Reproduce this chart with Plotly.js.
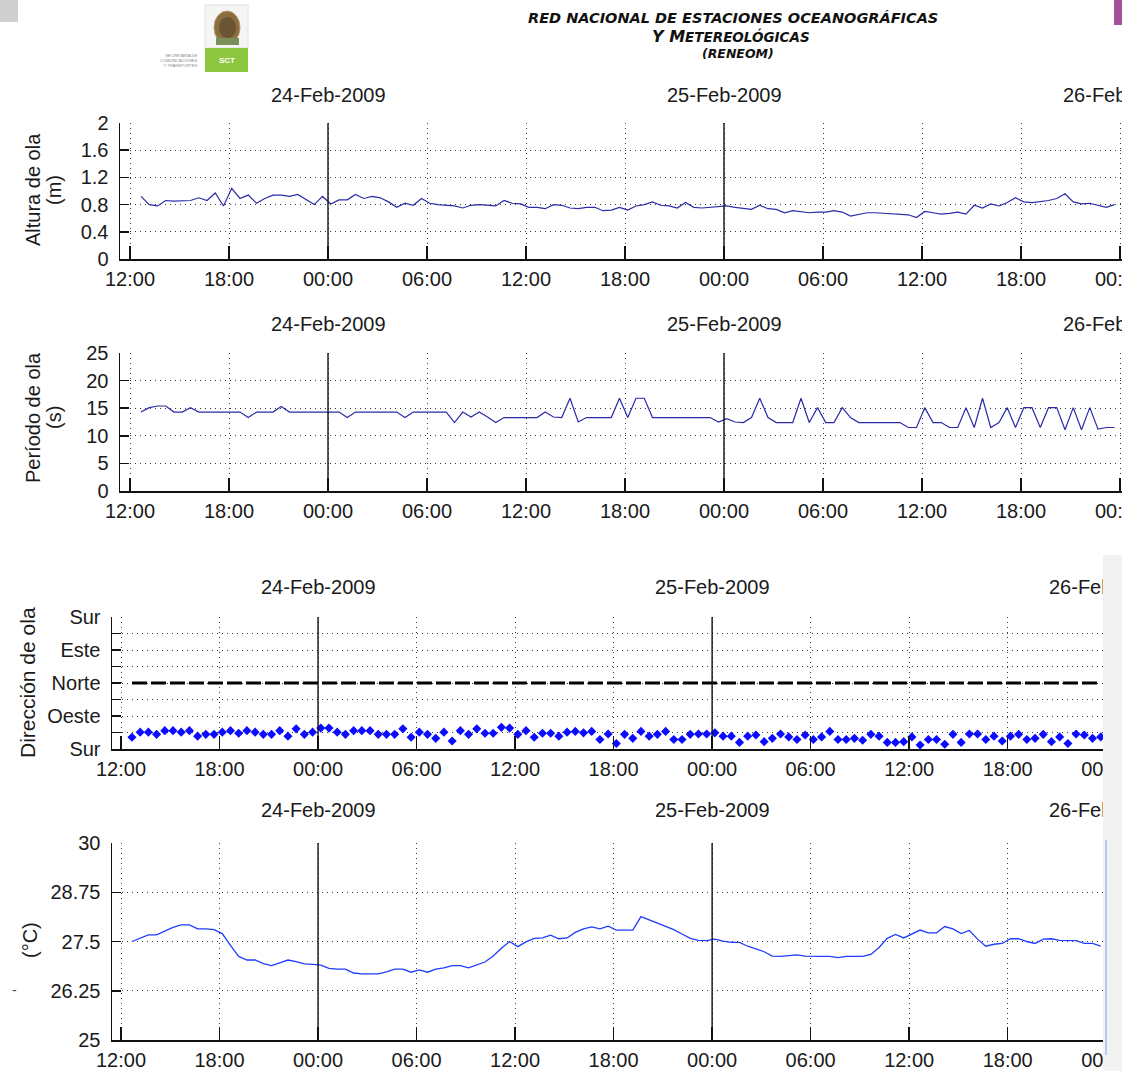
<!DOCTYPE html>
<html>
<head>
<meta charset="utf-8">
<script src="https://cdn.plot.ly/plotly-3.0.1.min.js"></script>
<style>
  html, body { margin: 0; padding: 0; background: #fff; width: 1122px; height: 1071px; overflow: hidden; }
  #oleaje { position: absolute; left: 0; top: 0; width: 1122px; height: 555px; overflow: hidden; }
  #direccion { position: absolute; left: 0; top: 555px; width: 1103px; height: 516px; overflow: hidden; }
  #marco { position: absolute; left: 1103px; top: 555px; width: 19px; height: 516px; background: #f2f2f2; }
  #marco .barra { position: absolute; left: 2px; top: 285px; width: 2px; height: 215px; background: #b9c9f2; }
</style>
</head>
<body>
<div id="oleaje"></div>
<div id="direccion"></div>
<div id="marco"><div class="barra"></div></div>
<script>
// ---- Serie de tiempo (muestras cada 30 min) ----
const tiempo = [
  '2009-02-23 12:40','2009-02-23 13:10','2009-02-23 13:40','2009-02-23 14:10','2009-02-23 14:40','2009-02-23 15:10',
  '2009-02-23 15:40','2009-02-23 16:10','2009-02-23 16:40','2009-02-23 17:10','2009-02-23 17:40','2009-02-23 18:10',
  '2009-02-23 18:40','2009-02-23 19:10','2009-02-23 19:40','2009-02-23 20:10','2009-02-23 20:40','2009-02-23 21:10',
  '2009-02-23 21:40','2009-02-23 22:10','2009-02-23 22:40','2009-02-23 23:10','2009-02-23 23:40',
  '2009-02-24 00:10','2009-02-24 00:40','2009-02-24 01:10','2009-02-24 01:40','2009-02-24 02:10','2009-02-24 02:40',
  '2009-02-24 03:10','2009-02-24 03:40','2009-02-24 04:10','2009-02-24 04:40','2009-02-24 05:10','2009-02-24 05:40',
  '2009-02-24 06:10','2009-02-24 06:40','2009-02-24 07:10','2009-02-24 07:40','2009-02-24 08:10','2009-02-24 08:40',
  '2009-02-24 09:10','2009-02-24 09:40','2009-02-24 10:10','2009-02-24 10:40','2009-02-24 11:10','2009-02-24 11:40',
  '2009-02-24 12:10','2009-02-24 12:40','2009-02-24 13:10','2009-02-24 13:40','2009-02-24 14:10','2009-02-24 14:40',
  '2009-02-24 15:10','2009-02-24 15:40','2009-02-24 16:10','2009-02-24 16:40','2009-02-24 17:10','2009-02-24 17:40',
  '2009-02-24 18:10','2009-02-24 18:40','2009-02-24 19:10','2009-02-24 19:40','2009-02-24 20:10','2009-02-24 20:40',
  '2009-02-24 21:10','2009-02-24 21:40','2009-02-24 22:10','2009-02-24 22:40','2009-02-24 23:10','2009-02-24 23:40',
  '2009-02-25 00:10','2009-02-25 00:40','2009-02-25 01:10','2009-02-25 01:40','2009-02-25 02:10','2009-02-25 02:40',
  '2009-02-25 03:10','2009-02-25 03:40','2009-02-25 04:10','2009-02-25 04:40','2009-02-25 05:10','2009-02-25 05:40',
  '2009-02-25 06:10','2009-02-25 06:40','2009-02-25 07:10','2009-02-25 07:40','2009-02-25 08:10','2009-02-25 08:40',
  '2009-02-25 09:10','2009-02-25 09:40','2009-02-25 10:10','2009-02-25 10:40','2009-02-25 11:10','2009-02-25 11:40',
  '2009-02-25 12:10','2009-02-25 12:40','2009-02-25 13:10','2009-02-25 13:40','2009-02-25 14:10','2009-02-25 14:40',
  '2009-02-25 15:10','2009-02-25 15:40','2009-02-25 16:10','2009-02-25 16:40','2009-02-25 17:10','2009-02-25 17:40',
  '2009-02-25 18:10','2009-02-25 18:40','2009-02-25 19:10','2009-02-25 19:40','2009-02-25 20:10','2009-02-25 20:40',
  '2009-02-25 21:10','2009-02-25 21:40','2009-02-25 22:10','2009-02-25 22:40','2009-02-25 23:10','2009-02-25 23:40'
];

// Altura de ola (m)
const altura = [
  0.92,0.80,0.78,0.86,0.85,0.85,0.86,0.90,0.86,0.97,
  0.78,1.04,0.89,0.94,0.82,0.89,0.94,0.94,0.92,0.95,
  0.87,0.80,0.92,0.81,0.87,0.87,0.95,0.89,0.92,0.90,
  0.84,0.76,0.82,0.79,0.89,0.82,0.80,0.79,0.78,0.75,
  0.79,0.80,0.79,0.78,0.86,0.82,0.81,0.76,0.76,0.74,
  0.80,0.79,0.75,0.74,0.76,0.76,0.71,0.72,0.76,0.72,
  0.78,0.80,0.84,0.79,0.78,0.75,0.83,0.76,0.75,0.76,
  0.78,0.78,0.76,0.74,0.73,0.79,0.74,0.73,0.68,0.71,
  0.70,0.68,0.69,0.69,0.71,0.69,0.63,0.66,0.68,0.68,
  0.67,0.66,0.66,0.65,0.61,0.70,0.68,0.66,0.67,0.69,
  0.66,0.79,0.75,0.81,0.78,0.83,0.90,0.84,0.83,0.84,
  0.86,0.89,0.96,0.84,0.81,0.82,0.79,0.76,0.80
];

// Periodo de ola (s)
const periodo = [
  14.3,15.1,15.4,15.4,14.3,14.3,15.1,14.3,14.3,14.3,
  14.3,14.3,14.3,13.3,14.3,14.3,14.3,15.3,14.3,14.3,
  14.3,14.3,14.3,14.3,14.3,13.3,14.3,14.3,14.3,14.3,
  14.3,14.3,13.3,14.3,14.3,14.3,14.3,14.3,12.4,14.3,
  13.4,14.3,13.4,12.4,13.3,13.3,13.3,13.3,13.3,14.3,
  13.4,13.3,16.8,12.5,13.3,13.3,13.3,13.3,16.8,13.3,
  16.8,16.8,13.3,13.3,13.3,13.3,13.3,13.3,13.3,13.3,
  12.5,13.1,12.5,12.4,13.3,16.8,13.3,12.4,12.4,12.4,
  16.8,12.4,15.1,12.4,12.4,15.1,13.3,12.4,12.4,12.4,
  12.4,12.4,12.4,11.5,11.5,15.1,12.4,12.4,11.5,11.5,
  15.1,11.5,16.8,11.5,12.4,15.1,11.5,15.1,15.1,11.5,
  15.1,15.1,11.1,15.1,11.1,15.1,11.2,11.5,11.5
];

// Direccion de ola (grados, 0 = Sur, 180 = Norte)
const direccion = [
  32,46,46,40,50,50,46,50,35,40,
  40,46,50,43,50,46,40,40,50,35,
  55,40,46,57,57,46,40,50,50,50,
  40,40,40,55,32,46,40,29,46,22,
  50,40,55,43,43,59,57,40,50,32,
  43,43,35,46,48,44,48,26,41,15,
  40,29,48,35,40,48,26,26,40,41,
  41,44,35,35,18,35,38,20,29,41,
  33,26,38,26,33,48,26,26,29,24,
  40,35,18,18,20,33,11,26,26,13,
  40,18,41,41,26,35,22,35,40,26,
  29,40,20,33,15,41,38,29,33
];

// Temperatura del agua (°C)
const temperatura = [
  27.50,27.59,27.67,27.67,27.77,27.86,27.92,27.92,27.82,27.82,
  27.80,27.70,27.40,27.12,27.03,27.03,26.94,26.89,26.96,27.03,
  26.99,26.93,26.92,26.90,26.82,26.80,26.80,26.70,26.68,26.68,
  26.68,26.73,26.80,26.80,26.72,26.78,26.72,26.80,26.83,26.89,
  26.89,26.83,26.90,26.98,27.13,27.33,27.50,27.37,27.49,27.58,
  27.59,27.66,27.57,27.59,27.73,27.82,27.87,27.82,27.89,27.79,
  27.79,27.79,28.13,28.05,27.97,27.89,27.80,27.69,27.58,27.53,
  27.52,27.56,27.51,27.48,27.48,27.38,27.30,27.24,27.13,27.12,
  27.14,27.16,27.13,27.12,27.12,27.12,27.09,27.12,27.12,27.12,
  27.17,27.35,27.58,27.68,27.59,27.68,27.79,27.72,27.72,27.88,
  27.82,27.70,27.78,27.56,27.38,27.43,27.45,27.57,27.57,27.50,
  27.45,27.56,27.57,27.53,27.52,27.52,27.45,27.45,27.38
];

// Referencia: direccion Norte
const NORTE = 180;

// Dias y ejes
const medianoches = ['2009-02-24 00:00', '2009-02-25 00:00', '2009-02-26 00:00'];
const etiquetasDia = ['24-Feb-2009', '25-Feb-2009', '26-Feb-2009'];
const ticksAltura = [0, 0.4, 0.8, 1.2, 1.6, 2];
const ticksPeriodo = [0, 5, 10, 15, 20, 25];
const ticksDireccion = [0, 45, 90, 135, 180, 225, 270, 315, 360];
const textosDireccion = ['Sur', '', 'Oeste', '', 'Norte', '', 'Este', '', 'Sur'];
const ticksTemperatura = [25, 26.25, 27.5, 28.75, 30];
const textosTemperatura = ['25', '26.25', '27.5', '28.75', '30'];

// ---- Geometria ----
const ANCHO = 1300;
const ALTO_A = 555, ALTO_B = 516, ARRIBA_B = 555;
const BASE = Date.UTC(2009, 1, 23, 12, 0, 0);
const HORA = 3600 * 1000;
const FUENTE = 'Liberation Sans, Arial, Helvetica, sans-serif';
const fTick = { family: FUENTE, size: 20, color: '#1a1a1a' };

const fx = x => x / ANCHO;
const fyA = y => 1 - y / ALTO_A;
const fyB = y => 1 - (y - ARRIBA_B) / ALTO_B;
const fecha = ms => new Date(ms).toISOString().slice(0, 19).replace('T', ' ');
const ultimo = tiempo[tiempo.length - 1];

function ejeX(pxIzq, pxBase, pxPorHora, ancla) {
  return {
    type: 'date', anchor: ancla, domain: [fx(pxIzq), 1],
    range: [fecha(BASE + (pxIzq - pxBase) / pxPorHora * HORA), fecha(BASE + (ANCHO - pxBase) / pxPorHora * HORA)],
    tick0: '2009-02-23 00:00', dtick: 6 * HORA, tickformat: '%H:%M',
    showgrid: true, gridcolor: '#3a3a3a', griddash: '1px,4px', gridwidth: 1,
    showline: true, linecolor: '#111', linewidth: 1.5,
    ticks: 'inside', ticklen: 13, tickwidth: 1.5, tickcolor: '#111',
    tickfont: fTick, ticklabelstandoff: 1, zeroline: false, fixedrange: true
  };
}
function ejeY(dominio, rango, valores, textos, ancla) {
  return {
    anchor: ancla, domain: dominio, range: rango,
    tickmode: 'array', tickvals: valores, ticktext: textos,
    showgrid: true, gridcolor: '#3a3a3a', griddash: '1px,4px', gridwidth: 1,
    showline: true, linecolor: '#111', linewidth: 1.5,
    ticks: 'inside', ticklen: 9, tickwidth: 1.5, tickcolor: '#111',
    tickfont: fTick, ticklabelstandoff: 6, zeroline: false, fixedrange: true
  };
}

// separadores de dia (solo dentro del periodo medido) y fecha sobre cada panel
function marcasDia(ejeXn, ejeYn, desplaz) {
  const lineas = medianoches.filter(m => m <= ultimo).map(m => ({
    type: 'line', xref: ejeXn, yref: ejeYn + ' domain', x0: m, x1: m, y0: 0, y1: 1,
    line: { color: '#111', width: 1.4 }, layer: 'above'
  }));
  const textos = medianoches.map((m, i) => ({
    xref: ejeXn, yref: ejeYn + ' domain', x: m, y: 1, yshift: desplaz,
    text: etiquetasDia[i], showarrow: false, xanchor: 'center', yanchor: 'middle',
    font: { family: FUENTE, size: 20, color: '#1a1a1a' }
  }));
  return { lineas, textos };
}
function tituloY(texto, x, y, tam, fy) {
  return {
    xref: 'paper', yref: 'paper', x: fx(x), y: fy(y), text: texto, textangle: -90,
    showarrow: false, xanchor: 'center', yanchor: 'middle',
    font: { family: FUENTE, size: tam, color: '#1a1a1a' }
  };
}
function rect(x0, y0, x1, y1, fy, relleno, borde) {
  return {
    type: 'rect', xref: 'paper', yref: 'paper', x0: fx(x0), x1: fx(x1), y0: fy(y1), y1: fy(y0),
    fillcolor: relleno, line: { width: borde ? 1 : 0, color: borde || relleno }, layer: 'above'
  };
}

// ---- Figura superior: altura y periodo ----
const dA1 = marcasDia('x', 'y', 28);
const dA2 = marcasDia('x2', 'y2', 29);

const trazasA = [
  { x: tiempo, y: altura, mode: 'lines', line: { color: '#2b2ba8', width: 1.2 }, xaxis: 'x', yaxis: 'y' },
  { x: tiempo, y: periodo, mode: 'lines', line: { color: '#2b2ba8', width: 1.2 }, xaxis: 'x2', yaxis: 'y2' }
];

const encabezado = [
  { x: fx(733), y: fyA(18), text: '<b><i>RED NACIONAL DE ESTACIONES OCEANOGRÁFICAS</i></b>',
    font: { family: 'DejaVu Sans', size: 14.5, color: '#111' } },
  { x: fx(731), y: fyA(36), text: '<b><i>Y M<span style="font-size:13.5px">ETEREOLÓGICAS</span></i></b>',
    font: { family: 'DejaVu Sans', size: 16, color: '#111' } },
  { x: fx(738), y: fyA(53), text: '<b><i>(RENEOM)</i></b>',
    font: { family: 'DejaVu Sans', size: 12.5, color: '#111' } },
  { x: fx(226.5), y: fyA(61), text: '<b>SCT</b>', font: { family: FUENTE, size: 8, color: '#ffffff' } },
  { x: fx(199), y: fyA(60), xanchor: 'right', align: 'right',
    text: 'SECRETARÍA DE<br>COMUNICACIONES<br>Y TRANSPORTES', font: { family: FUENTE, size: 4, color: '#888' } }
].map(a => Object.assign({ xref: 'paper', yref: 'paper', showarrow: false, xanchor: 'center', yanchor: 'middle' }, a));

const layoutA = {
  width: ANCHO, height: ALTO_A, margin: { l: 0, r: 0, t: 0, b: 0 },
  paper_bgcolor: '#ffffff', plot_bgcolor: '#ffffff', showlegend: false,
  xaxis: ejeX(120, 130, 16.5, 'y'),
  yaxis: ejeY([fyA(259), fyA(123)], [0, 2], ticksAltura, ticksAltura.map(String), 'x'),
  xaxis2: ejeX(120, 130, 16.5, 'y2'),
  yaxis2: ejeY([fyA(491), fyA(353)], [0, 25], ticksPeriodo, ticksPeriodo.map(String), 'x2'),
  shapes: [
    rect(0, 0, 18, 22, fyA, '#cfcfcf'),
    rect(1114, 0, 1122, 25, fyA, '#a3519b'),
    rect(205, 5, 248, 48, fyA, '#f5f5f3', '#dedede'),
    { type: 'circle', xref: 'paper', yref: 'paper', x0: fx(214), x1: fx(240), y0: fyA(44), y1: fyA(11),
      fillcolor: '#8c6d3f', line: { width: 1, color: '#b39a6e' }, layer: 'above' },
    { type: 'circle', xref: 'paper', yref: 'paper', x0: fx(219), x1: fx(236), y0: fyA(38), y1: fyA(17),
      fillcolor: '#6b5431', line: { width: 0 }, layer: 'above' },
    rect(216, 38, 239, 45, fyA, '#7b8f5a'),
    rect(205, 48, 248, 72, fyA, '#8dc63f')
  ].concat(dA1.lineas, dA2.lineas),
  annotations: encabezado.concat(dA1.textos, dA2.textos, [
    tituloY('Altura de ola', 33, 190, 20, fyA),
    tituloY('(m)', 54, 190, 20, fyA),
    tituloY('Período de ola', 33, 418, 20, fyA),
    tituloY('(s)', 54, 418, 20, fyA)
  ])
};

// ---- Figura inferior: direccion y temperatura ----
const dB1 = marcasDia('x', 'y', 30);
const dB2 = marcasDia('x2', 'y2', 33);

const trazasB = [
  { x: [tiempo[0], ultimo], y: [NORTE, NORTE], mode: 'lines',
    line: { color: '#000000', width: 2.8, dash: '15px,4px' }, xaxis: 'x', yaxis: 'y' },
  { x: tiempo, y: direccion, mode: 'markers',
    marker: { symbol: 'diamond', size: 7, color: '#0b0bff', line: { width: 0 } }, xaxis: 'x', yaxis: 'y' },
  { x: tiempo, y: temperatura, mode: 'lines', line: { color: '#1f3dff', width: 1.3 }, xaxis: 'x2', yaxis: 'y2' }
];

const layoutB = {
  width: ANCHO, height: ALTO_B, margin: { l: 0, r: 0, t: 0, b: 0 },
  paper_bgcolor: '#ffffff', plot_bgcolor: '#ffffff', showlegend: false,
  xaxis: ejeX(112, 121, 16.42, 'y'),
  yaxis: ejeY([fyB(749), fyB(617)], [0, 360], ticksDireccion, textosDireccion, 'x'),
  xaxis2: ejeX(112, 121, 16.42, 'y2'),
  yaxis2: ejeY([fyB(1040), fyB(843)], [25, 30], ticksTemperatura, textosTemperatura, 'x2'),
  shapes: dB1.lineas.concat(dB2.lineas),
  annotations: dB1.textos.concat(dB2.textos, [
    tituloY('Dirección de ola', 27, 683, 21, fyB),
    tituloY('(°C)', 30, 940, 20, fyB),
    { xref: 'paper', yref: 'paper', x: fx(10), y: fyB(1000), text: '-', showarrow: false,
      font: { family: FUENTE, size: 14, color: '#444' } }
  ])
};

const config = { staticPlot: true, displayModeBar: false };
Plotly.newPlot('oleaje', trazasA, layoutA, config);
Plotly.newPlot('direccion', trazasB, layoutB, config);
</script>
</body>
</html>
